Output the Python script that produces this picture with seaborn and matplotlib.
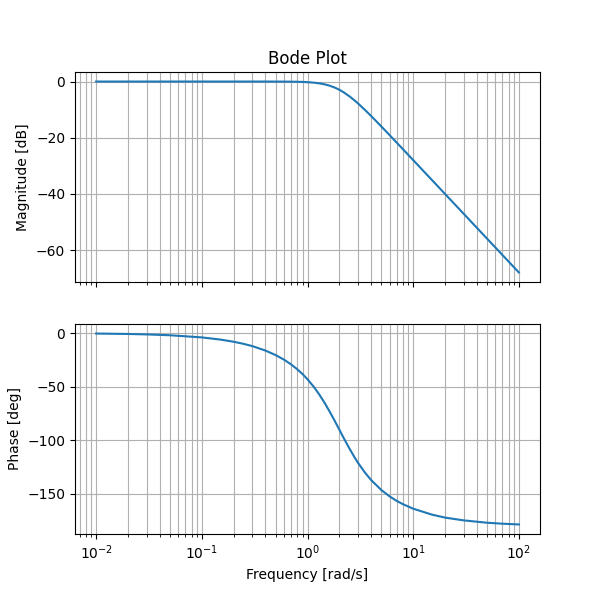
import matplotlib
matplotlib.use("Agg")
import matplotlib.pyplot as plt
import seaborn as sns
import pandas as pd

# values
freq = [0.01, 0.02, 0.03, 0.05, 0.1, 0.15, 0.2, 0.25, 0.3, 0.4, 0.5, 0.6,
        0.7, 0.8, 0.9, 1.0, 1.15, 1.3, 1.45, 1.6, 1.8, 2.0, 2.2, 2.5, 2.8,
        3.0, 3.5, 4.0, 5.0, 6.0, 7.0, 8.0, 10.0, 15.0, 20.0, 30.0, 50.0,
        70.0, 100.0]
magnitude = [0.0, 0.0, 0.0, 0.0, 0.0, 0.0, 0.0, 0.0, 0.0, 0.0, -0.01, -0.02,
             -0.05, -0.08, -0.14, -0.22, -0.40, -0.65, -0.99, -1.41, -2.10,
             -2.92, -3.83, -5.29, -6.78, -7.76, -10.11, -12.26, -16.0, -19.12,
             -21.78, -24.09, -27.96, -35.0, -40.0, -47.04, -55.92, -61.76,
             -67.96]
phase = [-0.4, -0.8, -1.2, -2.0, -4.0, -6.03, -8.05, -10.08, -12.1, -16.26,
         -20.5, -24.78, -29.2, -33.7, -38.3, -43.0, -50.25, -57.6, -64.95,
         -72.2, -81.4, -90.0, -97.8, -107.8, -116.1, -120.8, -130.1, -137.0,
         -146.3, -152.3, -156.5, -159.5, -163.7, -169.2, -172.0, -174.6,
         -176.8, -177.7, -178.4]

df = pd.DataFrame({"freq": freq, "mag": magnitude, "phase": phase})

fig, (ax1, ax2) = plt.subplots(2, 1, figsize=(6, 6), dpi=100, sharex=True)

sns.lineplot(data=df, x="freq", y="mag", ax=ax1, color="#1f77b4")
ax1.set_xscale("log")
ax1.set_title("Bode Plot")
ax1.set_ylabel("Magnitude [dB]")
ax1.set_xlabel("")
ax1.grid(True, which="both")

sns.lineplot(data=df, x="freq", y="phase", ax=ax2, color="#1f77b4")
ax2.set_xscale("log")
ax2.set_ylabel("Phase [deg]")
ax2.set_xlabel("Frequency [rad/s]")
ax2.grid(True, which="both")

fig.savefig("out.png")
